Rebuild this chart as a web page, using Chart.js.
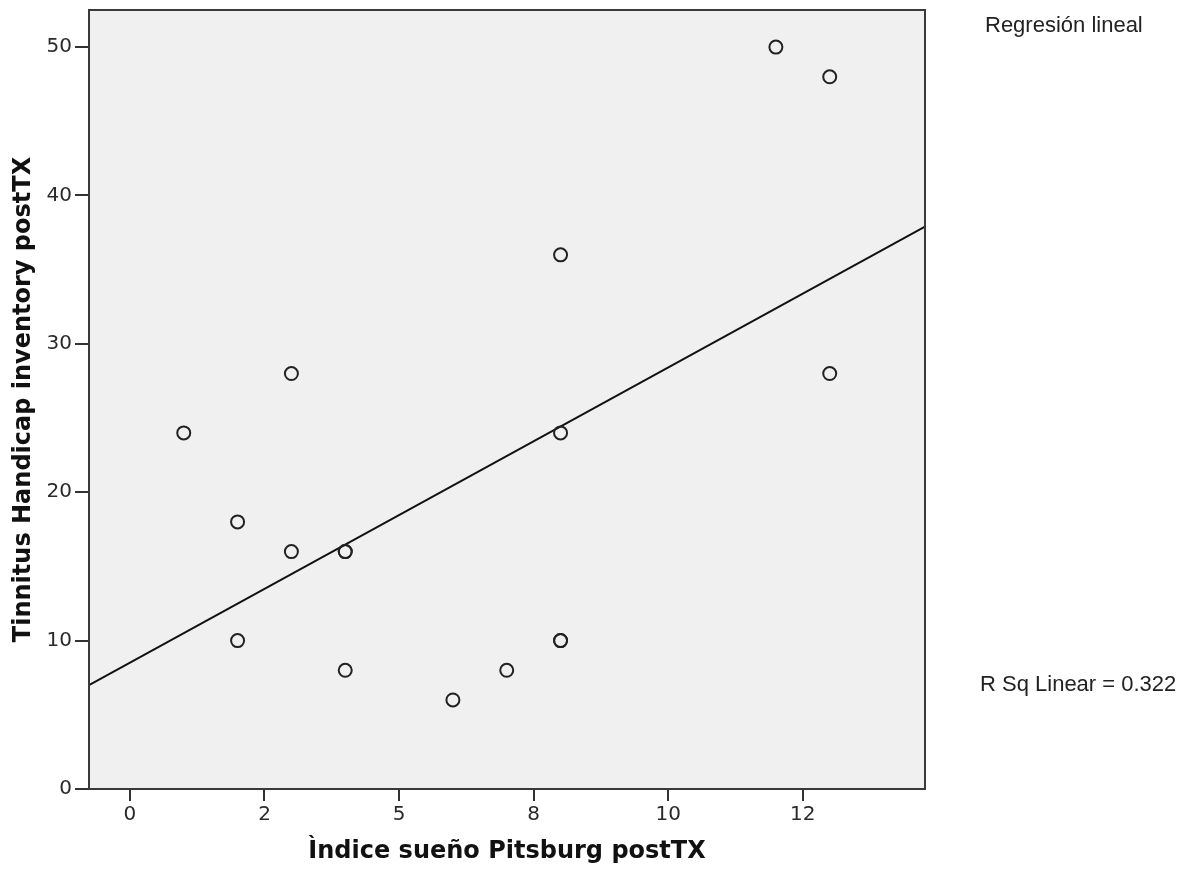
<!DOCTYPE html>
<html>
<head>
<meta charset="utf-8">
<script src="https://cdn.jsdelivr.net/npm/chart.js@4.4.0/dist/chart.umd.min.js"></script>
<style>
  html, body { margin: 0; background: #fff; }
  #wrap { width: 1191px; height: 877px; }
</style>
</head>
<body>
<div id="wrap"><canvas id="myChart"></canvas></div>
<script>
// puntos (dos puntos repetidos en (4,16) y (8,10))
const puntosX = [1, 2, 2, 3, 3, 4, 4, 4, 6, 7, 8, 8, 8, 8, 12, 13, 13];
const puntosY = [24, 18, 10, 28, 16, 16, 16, 8, 6, 8, 10, 10, 24, 36, 50, 48, 28];

// recta de regresion, extremos en los bordes del area
const rectaX = [-0.76, 14.77];
const rectaY = [7.0, 37.9];

const ticksX = [0, 2.5, 5, 7.5, 10, 12.5];
const etiquetasX = ['0', '2', '5', '8', '10', '12'];
const ticksY = [0, 10, 20, 30, 40, 50];

const fondo = {
    id: 'fondo',
    beforeDraw(chart) {
        const {ctx, chartArea: a} = chart;
        ctx.save();
        ctx.fillStyle = '#f0f0f0';
        ctx.fillRect(a.left, a.top, a.right - a.left, a.bottom - a.top);
        ctx.restore();
    },
    afterDraw(chart) {
        const {ctx, chartArea: a} = chart;
        ctx.save();
        ctx.strokeStyle = '#3a3a3a';
        ctx.lineWidth = 2;
        ctx.strokeRect(a.left, a.top, a.right - a.left, a.bottom - a.top);
        ctx.fillStyle = '#222';
        ctx.font = '22px "Liberation Sans", Arial, sans-serif';
        ctx.textBaseline = 'middle';
        ctx.fillText('Regresión lineal', 985, 26);
        ctx.fillText('R Sq Linear = 0.322', 980, 685);
        ctx.restore();
    }
};

const data = {
    datasets: [{
        type: 'scatter',
        label: 'puntos',
        data: puntosX.map((x, i) => ({x: x, y: puntosY[i]})),
        pointStyle: 'circle',
        pointRadius: 6.5,
        pointHoverRadius: 6.5,
        borderWidth: 2,
        borderColor: '#222',
        backgroundColor: 'rgba(0,0,0,0)'
    },
    {
        type: 'line',
        label: 'recta',
        data: rectaX.map((x, i) => ({x: x, y: rectaY[i]})),
        borderColor: '#111',
        borderWidth: 2,
        pointRadius: 0,
        fill: false
    }]
};

const config = {
    data: data,
    plugins: [fondo],
    options: {
        responsive: true,
        maintainAspectRatio: false,
        animation: false,
        layout: { padding: { top: 10, right: 266, left: 0, bottom: 0 } },
        plugins: {
            legend: { display: false },
            tooltip: { enabled: false }
        },
        scales: {
            x: {
                type: 'linear',
                min: -0.76,
                max: 14.77,
                afterBuildTicks: (s) => { s.ticks = ticksX.map(v => ({value: v})); },
                afterFit: (s) => { s.height = 88; },
                border: { display: false },
                grid: { drawOnChartArea: false, drawTicks: true, tickLength: 12, color: '#333', lineWidth: 2 },
                ticks: {
                    color: '#2a2a2a',
                    padding: 2,
                    font: { family: 'DejaVu Sans', size: 20 },
                    callback: (v, i) => etiquetasX[i]
                },
                title: {
                    display: true,
                    text: 'Ìndice sueño Pitsburg postTX',
                    color: '#111',
                    font: { family: 'DejaVu Sans', size: 24, weight: 'bold' },
                    padding: { top: 0, bottom: 11 }
                }
            },
            y: {
                type: 'linear',
                min: 0,
                max: 52.5,
                afterBuildTicks: (s) => { s.ticks = ticksY.map(v => ({value: v})); },
                afterFit: (s) => { s.width = 89; s.paddingTop = 0; s.paddingBottom = 0; },
                border: { display: false },
                grid: { drawOnChartArea: false, drawTicks: true, tickLength: 14, color: '#333', lineWidth: 2 },
                ticks: {
                    color: '#2a2a2a',
                    padding: 3,
                    font: { family: 'DejaVu Sans', size: 20 },
                    callback: (v) => String(v)
                },
                title: {
                    display: true,
                    text: 'Tinnitus Handicap inventory postTX',
                    color: '#111',
                    font: { family: 'DejaVu Sans', size: 24, weight: 'bold' },
                    padding: { top: 9, bottom: 0 }
                }
            }
        }
    }
};

const myChart = new Chart(document.getElementById('myChart'), config);
</script>
</body>
</html>
